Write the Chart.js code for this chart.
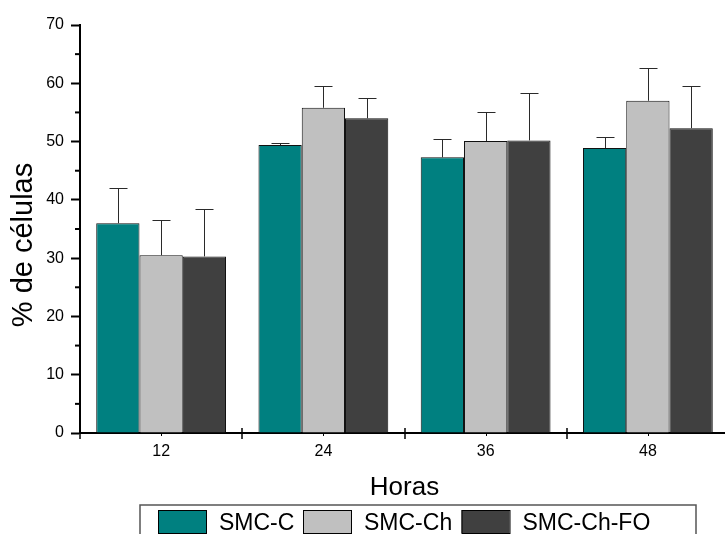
<!DOCTYPE html>
<html>
<head>
<meta charset="utf-8">
<script src="https://cdn.jsdelivr.net/npm/chart.js@4/dist/chart.umd.min.js"></script>
<style>
  html, body { margin: 0; padding: 0; background: #fff; overflow: hidden; }
  #wrap { width: 725px; height: 534px; overflow: hidden; position: relative; }
  canvas { display: block; }
</style>
</head>
<body>
<div id="wrap"><canvas id="c" width="740" height="534"></canvas></div>
<script>
// Time points (hours)
const horas = ['12', '24', '36', '48'];

// Mean % of cells per group
const smcC    = [36.0, 49.4, 47.3, 48.9];
const smcCh   = [30.5, 55.8, 50.1, 57.0];
const smcChFO = [30.3, 54.0, 50.2, 52.3];

// Upper error (SD)
const smcCErr    = [6.0, 0.3, 3.1, 1.8];
const smcChErr   = [6.0, 3.7, 5.0, 5.6];
const smcChFOErr = [8.1, 3.4, 8.1, 7.3];

// Y axis range
const yMin = 0, yMax = 70, yStep = 10;

const FONT = "'Liberation Sans', Arial, Helvetica, sans-serif";

// Upper-only error bars with caps
const errorBars = {
  id: 'errorBars',
  afterDatasetsDraw(chart) {
    const ctx = chart.ctx, ys = chart.scales.y;
    ctx.save();
    ctx.strokeStyle = '#2a2a2a';
    ctx.lineWidth = 1;
    chart.data.datasets.forEach((ds, i) => {
      const meta = chart.getDatasetMeta(i);
      meta.data.forEach((bar, j) => {
        const top = Math.round(ys.getPixelForValue(ds.data[j] + ds.errors[j])) + 0.5;
        const x = Math.round(bar.x) + 0.5;
        ctx.beginPath();
        ctx.moveTo(x, bar.y);
        ctx.lineTo(x, top);
        ctx.moveTo(x - 9, top);
        ctx.lineTo(x + 9, top);
        ctx.stroke();
      });
    });
    ctx.restore();
  }
};

// Minor y ticks, x group-boundary ticks, y title and the boxed legend
const decorations = {
  id: 'decorations',
  afterDraw(chart) {
    const ctx = chart.ctx, xs = chart.scales.x, ys = chart.scales.y;
    const area = chart.chartArea;
    ctx.save();
    ctx.strokeStyle = '#000';
    ctx.lineWidth = 2;

    // minor ticks halfway between labelled ticks
    for (let v = yMin + yStep / 2; v < yMax; v += yStep) {
      const py = ys.getPixelForValue(v);
      ctx.beginPath();
      ctx.moveTo(area.left - 5, py);
      ctx.lineTo(area.left, py);
      ctx.stroke();
    }

    // ticks between groups, crossing the axis line
    const n = horas.length;
    const half = (xs.getPixelForValue(1) - xs.getPixelForValue(0)) / 2;
    ctx.lineWidth = 1.5;
    for (let i = 0; i <= n; i++) {
      const px = Math.round(xs.getPixelForValue(i) - half);
      ctx.beginPath();
      ctx.moveTo(px, area.bottom - 5);
      ctx.lineTo(px, area.bottom + 6);
      ctx.stroke();
    }
    // small marks under each group centre
    ctx.lineWidth = 1;
    for (let i = 0; i < n; i++) {
      const px = Math.round(xs.getPixelForValue(i)) + 0.5;
      ctx.beginPath();
      ctx.moveTo(px, area.bottom);
      ctx.lineTo(px, area.bottom + 3);
      ctx.stroke();
    }

    // y axis title
    ctx.save();
    ctx.translate(24, 245);
    ctx.rotate(-Math.PI / 2);
    ctx.font = '29px ' + FONT;
    ctx.fillStyle = '#000';
    ctx.textAlign = 'center';
    ctx.textBaseline = 'middle';
    ctx.fillText('% de células', 0, 0);
    ctx.restore();

    // legend box
    ctx.strokeStyle = '#555';
    ctx.lineWidth = 1.5;
    ctx.strokeRect(140, 505, 556, 40);
    const itemX = [158, 303, 461.5];
    ctx.font = '23px ' + FONT;
    ctx.textAlign = 'left';
    ctx.textBaseline = 'alphabetic';
    chart.data.datasets.forEach((ds, i) => {
      ctx.fillStyle = ds.backgroundColor;
      ctx.fillRect(itemX[i], 510, 48, 23);
      ctx.strokeStyle = '#000';
      ctx.lineWidth = 1;
      ctx.strokeRect(itemX[i] + 0.5, 510.5, 48, 23);
      ctx.fillStyle = '#000';
      ctx.fillText(ds.label, itemX[i] + 61, 529.5);
    });
    ctx.restore();
  }
};

new Chart(document.getElementById('c'), {
  type: 'bar',
  data: {
    labels: horas,
    datasets: [
      { label: 'SMC-C', data: smcC, errors: smcCErr,
        backgroundColor: '#008080', borderColor: '#111', borderWidth: 1 },
      { label: 'SMC-Ch', data: smcCh, errors: smcChErr,
        backgroundColor: '#c0c0c0', borderColor: '#111', borderWidth: 1 },
      { label: 'SMC-Ch-FO', data: smcChFO, errors: smcChFOErr,
        backgroundColor: '#404040', borderColor: '#111', borderWidth: 1 }
    ]
  },
  options: {
    responsive: false,
    animation: false,
    layout: { padding: { left: 0, right: 11, top: 25, bottom: 0 } },
    datasets: { bar: { categoryPercentage: 0.8, barPercentage: 1.0 } },
    plugins: { legend: { display: false }, tooltip: { enabled: false } },
    scales: {
      x: {
        grid: { display: false, drawTicks: false },
        border: { display: true, color: '#000', width: 2 },
        ticks: { color: '#000', padding: 9, font: { family: FONT, size: 16 } },
        title: {
          display: true, text: 'Horas', color: '#000',
          font: { family: FONT, size: 26 },
          padding: { top: 0, bottom: 31 }
        },
        afterFit(scale) { scale.height = 101; }
      },
      y: {
        min: yMin, max: yMax,
        grid: { drawOnChartArea: false, drawTicks: true, tickLength: 9, tickColor: '#000', tickWidth: 2 },
        border: { display: true, color: '#000', width: 2 },
        ticks: { stepSize: yStep, color: '#000', padding: 7, font: { family: FONT, size: 16 } },
        afterFit(scale) { scale.width = 80; }
      }
    }
  },
  plugins: [errorBars, decorations]
});
</script>
</body>
</html>
